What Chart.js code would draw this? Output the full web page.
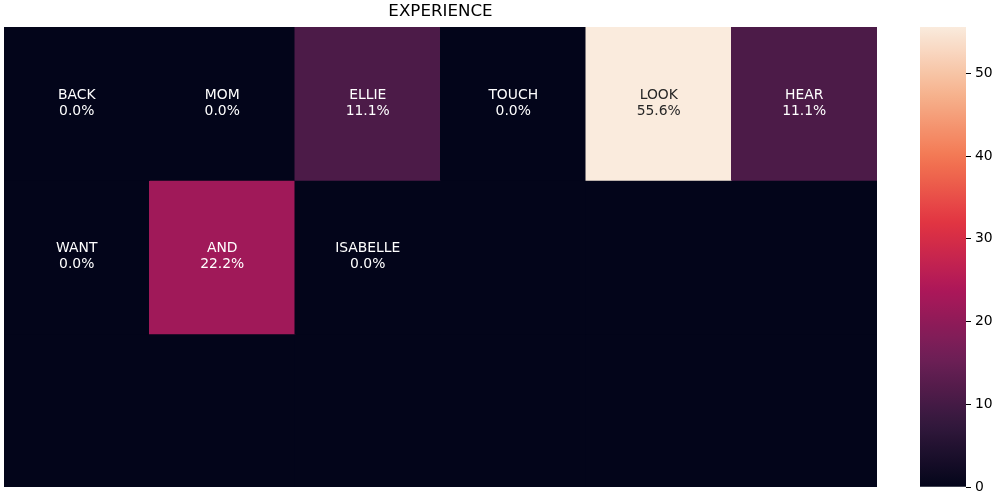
<!DOCTYPE html>
<html>
<head>
<meta charset="utf-8">
<script src="https://cdn.jsdelivr.net/npm/chart.js@4.4.1/dist/chart.umd.min.js"></script>
<style>
  html, body { margin: 0; padding: 0; background: #ffffff; }
  #wrap { position: relative; width: 1000px; height: 500px; }
  #heat { position: absolute; left: 0; top: 0; }
  #cbar { position: absolute; left: 900px; top: 0; }
</style>
</head>
<body>
<div id="wrap">
  <canvas id="heat" width="881" height="500"></canvas>
  <canvas id="cbar" width="100" height="500"></canvas>
</div>
<script>
// ---- data ----
const chartTitle = "EXPERIENCE";
const columns = [0, 1, 2, 3, 4, 5];
const row1Words = ["BACK", "MOM", "ELLIE", "TOUCH", "LOOK", "HEAR"];
const row1Values = [0.0, 0.0, 11.1, 0.0, 55.6, 11.1];
const row2Words = ["WANT", "AND", "ISABELLE", "", "", ""];
const row2Values = [0.0, 22.2, 0.0, 0.0, 0.0, 0.0];
const row3Words = ["", "", "", "", "", ""];
const row3Values = [0.0, 0.0, 0.0, 0.0, 0.0, 0.0];
const colorbarTicks = [0, 10, 20, 30, 40, 50];

const rowWords = [row1Words, row2Words, row3Words];
const rowValues = [row1Values, row2Values, row3Values];
const vmin = 0;
const vmax = Math.max(...rowValues.flat());

// ---- rocket colormap ----
const rocketStops = [
  [0.0, "#03051a"],
  [1/7, "#35193e"],
  [2/7, "#701f57"],
  [3/7, "#ad1759"],
  [4/7, "#e13342"],
  [5/7, "#f37651"],
  [6/7, "#f6b48f"],
  [1.0, "#faebdd"]
];
function hexToRgb(h) {
  return [parseInt(h.slice(1,3),16), parseInt(h.slice(3,5),16), parseInt(h.slice(5,7),16)];
}
function rocket(t) {
  t = Math.max(0, Math.min(1, t));
  for (let i = 0; i < rocketStops.length - 1; i++) {
    const [t0, c0] = rocketStops[i], [t1, c1] = rocketStops[i+1];
    if (t <= t1) {
      const f = (t - t0) / (t1 - t0);
      const a = hexToRgb(c0), b = hexToRgb(c1);
      return a.map((v, k) => Math.round(v + (b[k] - v) * f));
    }
  }
  return hexToRgb(rocketStops[rocketStops.length-1][1]);
}
function rgbStr(c) { return `rgb(${c[0]},${c[1]},${c[2]})`; }
function lum(c) {
  const s = c.map(v => { v /= 255; return v <= 0.03928 ? v/12.92 : Math.pow((v+0.055)/1.055, 2.4); });
  return 0.2126*s[0] + 0.7152*s[1] + 0.0722*s[2];
}

const FONT = "'DejaVu Sans', sans-serif";

// ---- heatmap ----
const heatDatasets = rowValues.map((vals, r) => ({
  data: columns.map(() => [r, r + 1]),
  backgroundColor: vals.map(v => rgbStr(rocket((v - vmin) / (vmax - vmin)))),
  borderWidth: 0,
  barPercentage: 1.0,
  categoryPercentage: 1.0,
  inflateAmount: 0.5
}));

const cellLabels = {
  id: 'cellLabels',
  afterDatasetsDraw(chart) {
    const ctx = chart.ctx;
    ctx.save();
    ctx.font = "13.9px " + FONT;
    ctx.textAlign = "center";
    ctx.textBaseline = "middle";
    chart.data.datasets.forEach((ds, r) => {
      const meta = chart.getDatasetMeta(r);
      meta.data.forEach((bar, c) => {
        const word = rowWords[r][c];
        if (!word) return;
        const v = rowValues[r][c];
        const col = rocket((v - vmin) / (vmax - vmin));
        ctx.fillStyle = lum(col) > 0.408 ? "#262626" : "#ffffff";
        const cx = bar.x;
        const cy = (bar.y + bar.base) / 2;
        ctx.fillText(word, cx, cy - 8.5);
        ctx.fillText(v.toFixed(1) + "%", cx, cy + 7.5);
      });
    });
    ctx.restore();
  }
};

new Chart(document.getElementById('heat'), {
  type: 'bar',
  data: { labels: columns.map(String), datasets: heatDatasets },
  options: {
    responsive: false,
    animation: false,
    layout: { padding: { left: 4, right: 4, top: 0, bottom: 13 } },
    plugins: {
      legend: { display: false },
      tooltip: { enabled: false },
      title: {
        display: true,
        text: chartTitle,
        color: "#000000",
        font: { family: FONT, size: 16.7, weight: 'normal' },
        padding: { top: 2, bottom: 5 }
      }
    },
    scales: {
      x: { display: false, stacked: true },
      y: { display: false, stacked: false, min: 0, max: rowValues.length, reverse: true }
    }
  },
  plugins: [cellLabels]
});

// ---- colorbar ----
new Chart(document.getElementById('cbar'), {
  type: 'bar',
  data: {
    labels: ["cb"],
    datasets: [{
      data: [[vmin, vmax]],
      borderWidth: 0,
      barPercentage: 1.0,
      categoryPercentage: 1.0,
      backgroundColor: (ctx) => {
        const area = ctx.chart.chartArea;
        if (!area) return "#000";
        const g = ctx.chart.ctx.createLinearGradient(0, area.bottom, 0, area.top);
        for (let i = 0; i <= 40; i++) {
          const t = i / 40;
          g.addColorStop(t, rgbStr(rocket(t)));
        }
        return g;
      }
    }]
  },
  options: {
    responsive: false,
    animation: false,
    layout: { padding: { left: 20, right: 0, top: 27, bottom: 13 } },
    plugins: { legend: { display: false }, tooltip: { enabled: false }, title: { display: false } },
    scales: {
      x: { display: false },
      y: {
        position: 'right',
        min: vmin,
        max: vmax,
        afterBuildTicks: (scale) => { scale.ticks = colorbarTicks.map(v => ({ value: v })); },
        afterFit: (scale) => { scale.width = 34; },
        ticks: {
          color: "#000000",
          font: { family: FONT, size: 13.9 },
          padding: 4,
          callback: (v) => String(v)
        },
        grid: { drawOnChartArea: false, drawTicks: true, tickLength: 5, color: "#000000", lineWidth: 1 },
        border: { display: false }
      }
    }
  }
});
</script>
</body>
</html>
